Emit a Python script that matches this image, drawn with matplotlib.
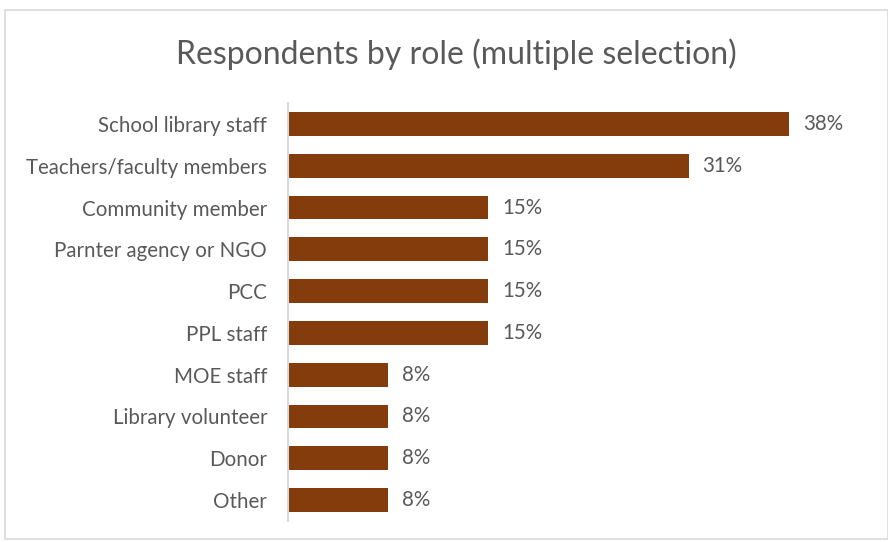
import matplotlib.pyplot as plt
from matplotlib.patches import Rectangle

# data (share of respondents)
roles = ["School library staff", "Teachers/faculty members", "Community member",
         "Parnter agency or NGO", "PCC", "PPL staff", "MOE staff",
         "Library volunteer", "Donor", "Other"]
shares = [0.3846, 0.3077, 0.1538, 0.1538, 0.1538, 0.1538,
          0.0769, 0.0769, 0.0769, 0.0769]

bar_color = "#843C0C"
text_color = "#595959"
plt.rcParams['font.family'] = ['Lato', 'DejaVu Sans']

fig = plt.figure(figsize=(8.88, 5.42), dpi=100)
W, H = 888, 542
ax = fig.add_axes([288 / W, 1 - 521 / H, (874 - 288) / W, (521 - 103) / H])

y = list(range(len(roles)))
ax.barh(y, shares, height=0.57, color=bar_color)
ax.set_ylim(len(roles) - 0.5, -0.5)
ax.set_xlim(0, 0.45)
ax.set_yticks(y)
ax.set_yticklabels(roles, fontsize=14.8, color=text_color)
ax.tick_params(axis='y', length=0, pad=15)
ax.set_xticks([])
for s in ["top", "right", "bottom"]:
    ax.spines[s].set_visible(False)
ax.spines["left"].set_color("#D9D9D9")
ax.spines["left"].set_linewidth(1.5)

for yi, v in zip(y, shares):
    ax.annotate(f"{v:.0%}", (v, yi), xytext=(10, 0), textcoords="offset points",
                va="center", ha="left", fontsize=14.8, color=text_color)

fig.text(456 / W, 1 - 54 / H, "Respondents by role (multiple selection)",
         ha="center", va="center", fontsize=23, color=text_color)

fig.patches.append(Rectangle((5 / W, 0.005), 1 - 5 / W, 1 - 10 / H - 0.005,
                             transform=fig.transFigure, fill=False,
                             edgecolor="#D9D9D9", linewidth=1.2))

fig.savefig("out.png", dpi=100)
